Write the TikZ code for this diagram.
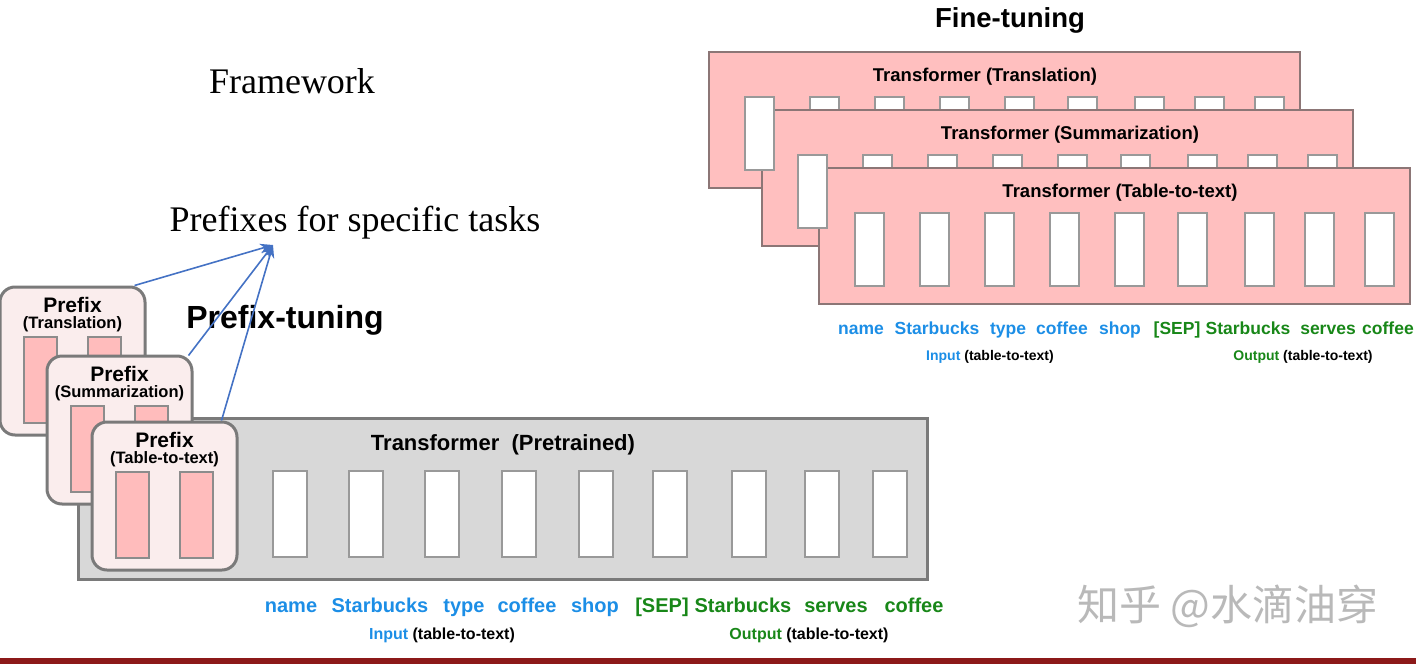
\documentclass[tikz,border=0pt]{standalone}
\usepackage{fontspec}
\setmainfont{Liberation Serif}
\newfontfamily\hv{Liberation Sans}
\newfontfamily\cjk{Noto Sans CJK SC}
\usetikzlibrary{arrows.meta}

\definecolor{ftpink}{RGB}{255,191,191}
\definecolor{ftedge}{RGB}{140,118,118}
\definecolor{pxfill}{RGB}{250,237,237}
\definecolor{pxbar}{RGB}{255,188,188}
\definecolor{tfgray}{RGB}{216,216,216}
\definecolor{edgegray}{RGB}{122,122,122}
\definecolor{arrblue}{RGB}{68,114,196}
\definecolor{tokblue}{RGB}{28,142,230}
\definecolor{tokgreen}{RGB}{24,135,24}
\definecolor{barred}{RGB}{140,25,25}
\definecolor{wmgray}{RGB}{185,185,185}

\tikzset{
  tok/.style={font=\hv\bfseries\fontsize{#1}{#1}\selectfont, inner sep=0pt},
  serif/.style={font=\fontsize{36}{36}\selectfont, inner sep=0pt},
  pbox/.style={draw=edgegray, line width=3pt, fill=pxfill, rounded corners=15pt,
    minimum width=145pt, minimum height=148pt, inner sep=0pt},
  ftbox/.style={draw=ftedge, line width=2pt, fill=ftpink,
    minimum width=591pt, minimum height=136pt, inner sep=0pt},
  slot/.style={draw=gray!80, line width=1.5pt, fill=white},
  bar/.style={draw=gray!90, line width=1.5pt, fill=pxbar},
  arr/.style={draw=arrblue, line width=1.6pt, -{Stealth[length=13pt,width=10pt]}}
}

\begin{document}
\begin{tikzpicture}[x=1pt,y=-1pt]
\useasboundingbox (0,0) rectangle (1416,664);

% titles
\node[serif] (frame) at (292,81) {Framework};
\node[serif] (tasks) at (355,223) {Prefixes for specific tasks};
\node[tok=32] (ptune) at (285,320) {Prefix-tuning};
\node[tok=27.5] (ftune) at (1010,20) {Fine-tuning};

% fine-tuning stack
\foreach \bx/\by/\cx/\nm/\ttl in {709/52/985/ftr/Translation, 762/110/1070/fsu/Summarization, 819/168/1120/fta/Table-to-text}{
  \node[ftbox] (\nm) at ({\bx+295.5},{\by+68}) {};
  \node[tok=18.5] (\nm t) at (\cx,{\by+25}) {Transformer (\ttl)};
  \foreach \s in {101,166,231,296,359,426,486,546}
    \draw[slot] ({\bx+\s},{\by+45}) rectangle ++(29,73);
}
\foreach \bx/\by in {709/52, 762/110, 819/168}
  \draw[slot] ({\bx+36},{\by+45}) rectangle ++(29,73);

% tokens (fine-tuning)
\foreach \x/\w in {861/name, 937/Starbucks, 1008/type, 1062/coffee, 1120/shop}
  \node[tok=17.5, text=tokblue, anchor=base] (tin\x) at (\x,334) {\w};
\foreach \x/\w in {1177/{[SEP]}, 1248/Starbucks, 1328/serves, 1388/coffee}
  \node[tok=17.5, text=tokgreen, anchor=base] (tout\x) at (\x,334) {\w};
\node[tok=14, anchor=base] (tinl) at (990,360) {\textcolor{tokblue}{Input} (table-to-text)};
\node[tok=14, anchor=base] (toutl) at (1303,360) {\textcolor{tokgreen}{Output} (table-to-text)};

% pretrained transformer
\draw[draw=edgegray, line width=3pt, fill=tfgray] (78,418) rectangle (927,579);
\node[tok=22] (pre) at (503,445) {Transformer\ \ (Pretrained)};
\foreach \x in {273,349,425,502,579,653,732,805,873}
  \draw[slot] (\x,471) rectangle ++(34,86);

% prefixes
\foreach \px/\py/\nm/\ttl in {0/287/ptr/Translation, 47/356/psu/Summarization, 92/422/pta/Table-to-text}{
  \node[pbox] (\nm) at ({\px+72.5},{\py+74}) {};
  \node[tok=21] (\nm a) at ({\px+72.5},{\py+18}) {Prefix};
  \node[tok=16.5] (\nm b) at ({\px+72.5},{\py+37}) {(\ttl)};
  \draw[bar] ({\px+24},{\py+50}) rectangle ++(33,86);
  \draw[bar] ({\px+88},{\py+50}) rectangle ++(33,86);
}

% arrows
\coordinate (tip) at (273,245);
\draw[arr] ([xshift=-12pt]ptr.north east) -- (tip);
\draw[arr] ([xshift=-5pt,yshift=-1pt]psu.north east) -- (tip);
\draw[arr] ([xshift=-17pt]pta.north east) -- (tip);

% tokens (prefix-tuning)
\foreach \x/\w in {291/name, 380/Starbucks, 464/type, 527/coffee, 595/shop}
  \node[tok=20, text=tokblue, anchor=base] (bin\x) at (\x,612) {\w};
\foreach \x/\w in {662/{[SEP]}, 743/Starbucks, 836/serves, 914/coffee}
  \node[tok=20, text=tokgreen, anchor=base] (bout\x) at (\x,612) {\w};
\node[tok=16, anchor=base] (binl) at (442,639) {\textcolor{tokblue}{Input} (table-to-text)};
\node[tok=16, anchor=base] (boutl) at (809,639) {\textcolor{tokgreen}{Output} (table-to-text)};

% watermark and rule
\node[font=\cjk\fontsize{42}{42}\selectfont, text=wmgray, inner sep=0pt] (wm) at (1228,606) {知乎 @水滴油穿};
\fill[barred] (0,658) rectangle (1416,664);
\end{tikzpicture}
\end{document}
